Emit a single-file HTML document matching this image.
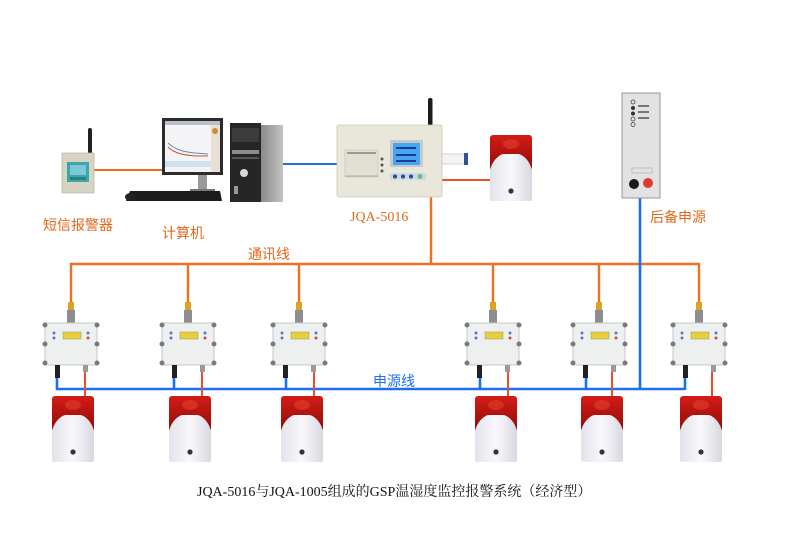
<!DOCTYPE html>
<html><head><meta charset="utf-8"><style>
html,body{margin:0;padding:0;background:#fff;}
svg{display:block;}
.lab{font-family:"Liberation Sans","Noto Sans CJK SC",sans-serif;font-size:14px;fill:#e2681c;}
.ser{font-family:"Liberation Serif","Noto Serif CJK SC",serif;}
</style></head><body>
<svg width="793" height="559" viewBox="0 0 793 559" xmlns="http://www.w3.org/2000/svg">
<defs>
  <linearGradient id="redg" x1="0" y1="0" x2="0" y2="1">
    <stop offset="0" stop-color="#d41c16"/><stop offset="1" stop-color="#900a08"/>
  </linearGradient>
  <linearGradient id="whg" x1="0" y1="0" x2="1" y2="0">
    <stop offset="0" stop-color="#e2e2ea"/><stop offset="0.5" stop-color="#f8f8fc"/><stop offset="1" stop-color="#d8d8e0"/>
  </linearGradient>
  <linearGradient id="sideg" x1="0" y1="0" x2="1" y2="0">
    <stop offset="0" stop-color="#8a8a8a"/><stop offset="1" stop-color="#c4c4c4"/>
  </linearGradient>
  <g id="alarm">
    <rect x="-21" y="0" width="42" height="36" rx="3" fill="url(#redg)"/>
    <ellipse cx="0" cy="9" rx="8" ry="5" fill="#e04030" opacity="0.6"/>
    <path d="M-21,35 C-19,27 -14,21 -8,19 L8,19 C14,21 19,27 21,35 L21,64 Q21,66 19,66 L-19,66 Q-21,66 -21,64 Z" fill="url(#whg)"/>
    <circle cx="0" cy="56" r="2.6" fill="#334"/>
  </g>
  <g id="sensor">
    <rect x="-4" y="8" width="8" height="13" fill="#8e8e8e"/>
    <rect x="-3" y="0" width="6" height="8" fill="#e0a028"/>
    <rect x="-26" y="21" width="52" height="42" rx="2" fill="#eef0f0" stroke="#c4c8c8"/>
    <circle cx="-26" cy="23" r="2.5" fill="#7a7a7a"/><circle cx="26" cy="23" r="2.5" fill="#7a7a7a"/>
    <circle cx="-26" cy="42" r="2.5" fill="#7a7a7a"/><circle cx="26" cy="42" r="2.5" fill="#7a7a7a"/>
    <circle cx="-26" cy="61" r="2.5" fill="#7a7a7a"/><circle cx="26" cy="61" r="2.5" fill="#7a7a7a"/>
    <rect x="-8" y="30" width="18" height="7" fill="#e6cf3a" stroke="#a8a070" stroke-width="0.6"/>
    <circle cx="-17" cy="31" r="1.5" fill="#5a78c0"/><circle cx="-17" cy="36" r="1.5" fill="#5a78c0"/>
    <circle cx="17" cy="31" r="1.5" fill="#5a78c0"/><circle cx="17" cy="36" r="1.5" fill="#c05050"/>
    <rect x="-16" y="63" width="5" height="13" fill="#222"/>
    <rect x="12" y="63" width="5" height="7" fill="#9a9a9a"/>
  </g>
</defs>

<!-- top connections -->
<line x1="94" y1="170" x2="163" y2="170" stroke="#ec6c20" stroke-width="2"/>
<line x1="283" y1="164" x2="337" y2="164" stroke="#1f6fe0" stroke-width="2"/>
<line x1="442" y1="180" x2="490" y2="180" stroke="#e8502a" stroke-width="2"/>

<!-- 通讯线 orange bus -->
<g stroke="#f07020" stroke-width="2.4" fill="none">
  <line x1="431" y1="197" x2="431" y2="264"/>
  <line x1="70" y1="264" x2="700" y2="264"/>
  <line x1="71" y1="263" x2="71" y2="302"/>
  <line x1="188" y1="263" x2="188" y2="302"/>
  <line x1="299" y1="263" x2="299" y2="302"/>
  <line x1="493" y1="263" x2="493" y2="302"/>
  <line x1="599" y1="263" x2="599" y2="302"/>
  <line x1="699" y1="263" x2="699" y2="302"/>
</g>

<!-- 电源线 blue bus -->
<g stroke="#1e6ef0" stroke-width="2.6" fill="none">
  <line x1="640" y1="197" x2="640" y2="390"/>
  <line x1="56" y1="389" x2="685" y2="389"/>
  <line x1="57" y1="372" x2="57" y2="390"/>
  <line x1="174" y1="372" x2="174" y2="390"/>
  <line x1="286" y1="372" x2="286" y2="390"/>
  <line x1="480" y1="372" x2="480" y2="390"/>
  <line x1="586" y1="372" x2="586" y2="390"/>
  <line x1="685" y1="372" x2="685" y2="390"/>
</g>

<!-- red wires sensor -> alarm -->
<g stroke="#e4502c" stroke-width="2" fill="none">
  <line x1="85" y1="368" x2="85" y2="400"/>
  <line x1="202" y1="368" x2="202" y2="400"/>
  <line x1="314" y1="368" x2="314" y2="400"/>
  <line x1="508" y1="368" x2="508" y2="400"/>
  <line x1="612" y1="368" x2="612" y2="400"/>
  <line x1="712" y1="368" x2="712" y2="400"/>
</g>

<!-- sensors -->
<use href="#sensor" x="71" y="302"/>
<use href="#sensor" x="188" y="302"/>
<use href="#sensor" x="299" y="302"/>
<use href="#sensor" x="493" y="302"/>
<use href="#sensor" x="599" y="302"/>
<use href="#sensor" x="699" y="302"/>

<!-- alarms -->
<use href="#alarm" x="73" y="396"/>
<use href="#alarm" x="190" y="396"/>
<use href="#alarm" x="302" y="396"/>
<use href="#alarm" x="496" y="396"/>
<use href="#alarm" x="602" y="396"/>
<use href="#alarm" x="701" y="396"/>
<use href="#alarm" x="511" y="135"/>

<!-- SMS alarm device -->
<rect x="88" y="128" width="4" height="26" rx="2" fill="#222"/>
<rect x="62" y="153" width="32" height="40" rx="1" fill="#d8d4c4" stroke="#bbb6a6" stroke-width="0.8"/>
<rect x="67" y="162" width="22" height="20" fill="#3aa8a8"/>
<rect x="70" y="165" width="16" height="10" fill="#7cc8d8"/>
<rect x="70" y="177" width="16" height="3" fill="#2a8080"/>

<!-- computer monitor -->
<rect x="162" y="118" width="61" height="57" fill="#2c2c2c"/>
<rect x="165" y="121" width="55" height="51" fill="#f4f4f6"/>
<rect x="165" y="121" width="55" height="4" fill="#b8c0cc"/>
<rect x="211" y="125" width="9" height="47" fill="#e8e0d4"/>
<circle cx="215" cy="131" r="3" fill="#d08a30"/>
<rect x="165" y="161" width="46" height="6" fill="#cfe0f0"/>
<path d="M168,143 C175,150 185,152 195,153 L208,154" stroke="#6a8ab0" stroke-width="1" fill="none"/>
<path d="M168,147 C175,154 185,155 195,156 L208,156" stroke="#c05040" stroke-width="1" fill="none"/>
<rect x="198" y="175" width="9" height="15" fill="#9a9a9a"/>
<rect x="190" y="189" width="25" height="3" fill="#777"/>
<path d="M130,191 L220,191 L222,201 L126,201 Z" fill="#1c1c1c"/>
<ellipse cx="131" cy="197" rx="6" ry="4" fill="#222"/>

<!-- tower -->
<rect x="230" y="123" width="31" height="79" fill="#262626"/>
<rect x="261" y="125" width="22" height="77" fill="url(#sideg)"/>
<rect x="232" y="128" width="27" height="14" fill="#3c3c3c"/>
<rect x="232" y="150" width="27" height="4" fill="#8c8c8c"/>
<rect x="232" y="157" width="27" height="2" fill="#555"/>
<circle cx="244" cy="173" r="4" fill="#d8d8d8"/>
<rect x="234" y="186" width="4" height="8" fill="#999"/>

<!-- JQA-5016 host -->
<rect x="428" y="98" width="4.5" height="28" rx="2" fill="#1c1c1c"/>
<rect x="337" y="125" width="105" height="72" rx="2" fill="#e9e7da" stroke="#cbc8b8" stroke-width="0.8"/>
<rect x="345" y="150" width="33" height="27" fill="#e2e0d2" stroke="#c4c2b4" stroke-width="0.6"/>
<line x1="347" y1="153" x2="376" y2="153" stroke="#555" stroke-width="1"/>
<line x1="345" y1="176" x2="378" y2="176" stroke="#aaa" stroke-width="1"/>
<circle cx="382" cy="159" r="1.5" fill="#555"/><circle cx="382" cy="165" r="1.5" fill="#555"/><circle cx="382" cy="171" r="1.5" fill="#555"/>
<rect x="390" y="140" width="33" height="27" fill="#c8c8cc"/>
<rect x="393" y="143" width="27" height="22" fill="#45a6f2"/>
<rect x="396" y="147" width="20" height="2" fill="#1c3c90"/>
<rect x="396" y="154" width="20" height="2" fill="#1c3c90"/>
<rect x="396" y="160" width="20" height="2" fill="#1c3c90"/>
<rect x="390" y="173" width="36" height="7" rx="2" fill="#c8d8ea"/>
<circle cx="395" cy="176.5" r="2" fill="#2a4a80"/><circle cx="403" cy="176.5" r="2" fill="#2a4a80"/><circle cx="411" cy="176.5" r="2" fill="#2a4a80"/><circle cx="420" cy="176.5" r="2.4" fill="#6ac060"/>
<rect x="442" y="154" width="24" height="10" fill="#f4f4f4" stroke="#bbb" stroke-width="0.6"/>
<rect x="464" y="153" width="4" height="12" fill="#3050a0"/>

<!-- power supply -->
<rect x="622" y="93" width="38" height="105" fill="#e2e2e2" stroke="#9a9a9a" stroke-width="1"/>
<circle cx="633" cy="102" r="2" fill="none" stroke="#444" stroke-width="0.8"/>
<circle cx="633" cy="108" r="2" fill="#333"/>
<circle cx="633" cy="113.5" r="2" fill="#333"/>
<circle cx="633" cy="119" r="2" fill="none" stroke="#444" stroke-width="0.8"/>
<circle cx="633" cy="124.5" r="2" fill="none" stroke="#444" stroke-width="0.8"/>
<rect x="638" y="105" width="11" height="2" fill="#777"/>
<rect x="638" y="111" width="11" height="2" fill="#777"/>
<rect x="638" y="117" width="11" height="2" fill="#777"/>
<rect x="632" y="168" width="20" height="5" fill="none" stroke="#aaa" stroke-width="0.6"/>
<circle cx="634" cy="184" r="5" fill="#1a1a1a"/>
<circle cx="648" cy="183" r="5" fill="#e03a30"/>

<!-- labels -->
<text x="43" y="230" class="lab">短信报警器</text>
<text x="162" y="238" class="lab">计算机</text>
<text x="350" y="221" class="ser" font-size="14" fill="#e2681c">JQA-5016</text>
<text x="650" y="222" class="lab">后备申源</text>
<text x="248" y="259" class="lab">通讯线</text>
<text x="373" y="386" class="lab" style="fill:#1e6ef0">申源线</text>
<text x="197" y="496" class="ser" font-size="14" fill="#111">JQA-5016与JQA-1005组成的GSP温湿度监控报警系统（经济型）</text>
</svg>
</body></html>
